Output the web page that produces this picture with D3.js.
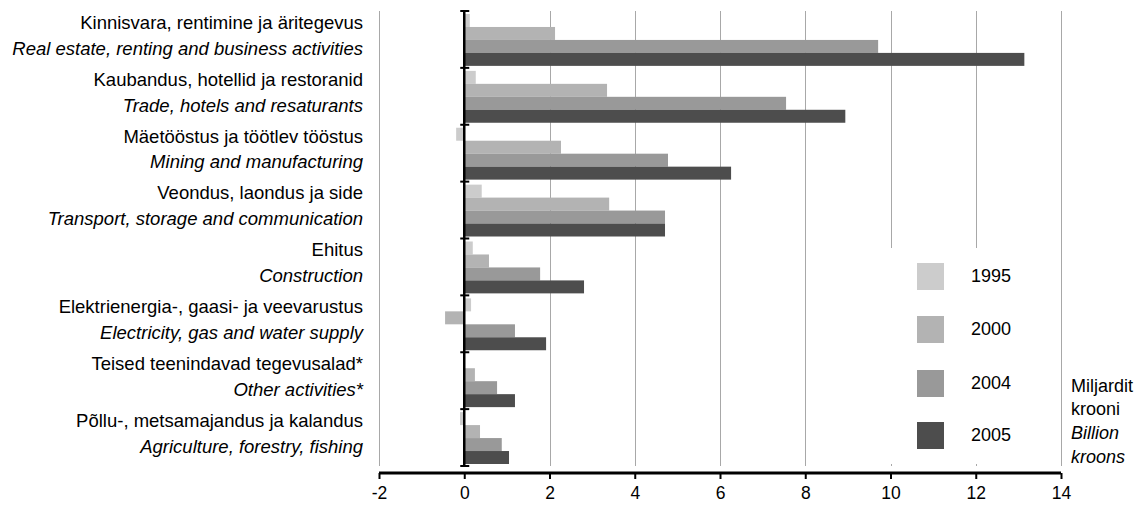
<!DOCTYPE html>
<html><head><meta charset="utf-8">
<script src="https://cdn.jsdelivr.net/npm/d3@7"></script>
<style>body{margin:0;background:#fff;} svg{display:block;font-family:"Liberation Sans",Arial,sans-serif;}</style>
</head><body>
<svg id="c" width="1144" height="505"></svg>
<script>
const categoriesEt = ["Kinnisvara, rentimine ja äritegevus","Kaubandus, hotellid ja restoranid","Mäetööstus ja töötlev tööstus","Veondus, laondus ja side","Ehitus","Elektrienergia-, gaasi- ja veevarustus","Teised teenindavad tegevusalad*","Põllu-, metsamajandus ja kalandus"];
const categoriesEn = ["Real estate, renting and business activities","Trade, hotels and resaturants","Mining and manufacturing","Transport, storage and communication","Construction","Electricity, gas and water supply","Other activities*","Agriculture, forestry, fishing"];
const years = ["1995","2000","2004","2005"];
const values1995 = [0.13, 0.27, -0.19, 0.41, 0.20, 0.16, 0, -0.10];
const values2000 = [2.13, 3.35, 2.27, 3.40, 0.58, -0.45, 0.25, 0.37];
const values2004 = [9.71, 7.55, 4.78, 4.71, 1.78, 1.19, 0.77, 0.88];
const values2005 = [13.14, 8.94, 6.26, 4.71, 2.81, 1.92, 1.19, 1.05];
const xTicks = [-2, 0, 2, 4, 6, 8, 10, 12, 14];
const unitLines = ["Miljardit", "krooni", "Billion", "kroons"];

const seriesValues = [values1995, values2000, values2004, values2005];
const colors = ["#cccccc", "#b3b3b3", "#999999", "#4d4d4d"];

const svg = d3.select("#c");
const x = d3.scaleLinear().domain([-2, 14]).range([379, 1061]);
const y = d3.scaleBand().domain(categoriesEt).range([11, 466]);
const yi = d3.scaleBand().domain(years).range([3, y.bandwidth() - 2]);

// gridlines
svg.append("g").selectAll("line").data(xTicks.filter(d => d !== 0)).join("line")
  .attr("x1", d => Math.round(x(d)) + 0.5).attr("x2", d => Math.round(x(d)) + 0.5)
  .attr("y1", 11).attr("y2", 466)
  .attr("stroke", "#a8a8a8").attr("stroke-width", 1);

// bars
const groups = svg.append("g").selectAll("g").data(categoriesEt).join("g")
  .attr("transform", d => `translate(0,${y(d)})`);
groups.each(function(cat, ci) {
  d3.select(this).selectAll("rect").data(years).join("rect")
    .attr("x", (yr, si) => x(Math.min(0, seriesValues[si][ci])))
    .attr("width", (yr, si) => Math.abs(x(seriesValues[si][ci]) - x(0)))
    .attr("y", yr => yi(yr))
    .attr("height", yi.bandwidth())
    .attr("fill", (yr, si) => colors[si]);
});

// vertical axis at 0
const x0 = x(0);
svg.append("line").attr("x1", x0).attr("x2", x0).attr("y1", 11).attr("y2", 466)
  .attr("stroke", "#000").attr("stroke-width", 2.5);
const bounds = categoriesEt.map(c => y(c)).concat([466]);
svg.append("g").selectAll("line").data(bounds).join("line")
  .attr("x1", x0 - 4).attr("x2", x0 + 5).attr("y1", d => d).attr("y2", d => d)
  .attr("stroke", "#000").attr("stroke-width", 2);

// category labels
const lab = svg.append("g").attr("font-size", 18.5).attr("fill", "#000").attr("text-anchor", "end");
categoriesEt.forEach((c, i) => {
  const cy = y(c) + y.bandwidth() / 2;
  lab.append("text").attr("x", 363).attr("y", cy - 10.6).text(c);
  lab.append("text").attr("x", 363).attr("y", cy + 15.2)
    .attr("font-style", "italic").text(categoriesEn[i]);
});

// x axis
const xAxis = svg.append("g").attr("transform", "translate(0,473)")
  .call(d3.axisBottom(x).tickValues(xTicks).tickSize(6).tickSizeOuter(0).tickPadding(8).tickFormat(d => String(d)));
xAxis.select(".domain").attr("stroke", "#000").attr("stroke-width", 3).attr("d", `M${x(-2)},0H${x(14)}`);
xAxis.selectAll(".tick line").attr("stroke", "#000").attr("stroke-width", 2);
xAxis.selectAll(".tick text").attr("font-size", 17.5).attr("font-family", "Liberation Sans, Arial, sans-serif").attr("fill", "#000");

// legend
const lg = svg.append("g");
lg.append("rect").attr("x", 884).attr("y", 248).attr("width", 172).attr("height", 216).attr("fill", "#fff");
const legY = [263, 316, 370, 422];
years.forEach((yr, i) => {
  lg.append("rect").attr("x", 917).attr("y", legY[i]).attr("width", 27).attr("height", 27).attr("fill", colors[i]);
  lg.append("text").attr("x", 971).attr("y", legY[i] + 19.3).attr("font-size", 18).text(yr);
});

// unit label
const ul = svg.append("g").attr("font-size", 18);
unitLines.forEach((t, i) => {
  ul.append("text").attr("x", 1071).attr("y", 391.5 + i * 23.7)
    .attr("font-style", i >= 2 ? "italic" : "normal").text(t);
});
</script>
</body></html>
